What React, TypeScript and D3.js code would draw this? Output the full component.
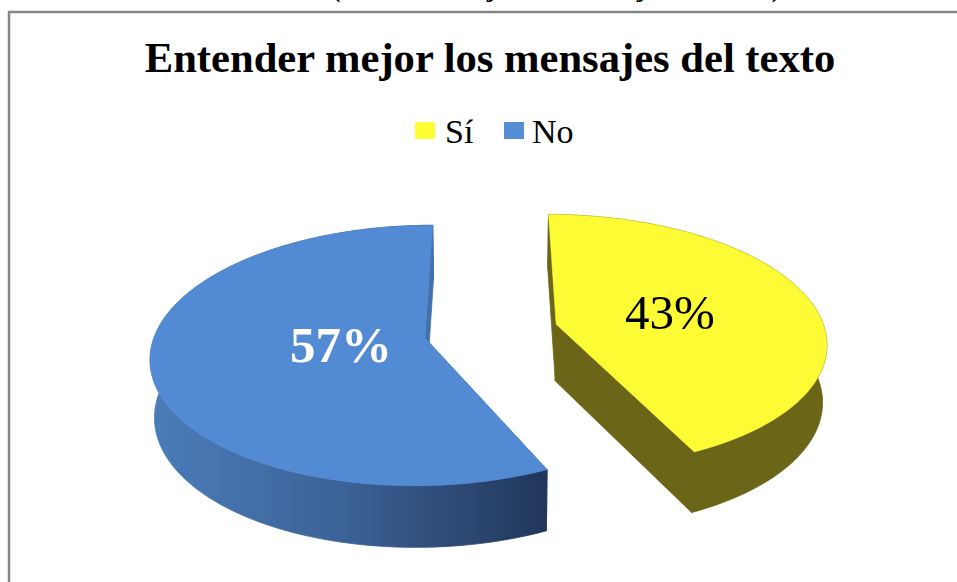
import React from 'react';
import * as d3 from 'd3';

const w = 957;
const h = 582;

const categories = ['Sí', 'No'];
const values = [43, 57];
const labels = ['43%', '57%'];
const topColors = ['#fdfb33', '#538ad4'];
const sideColors = ['#6b6518', 'url(#blueSide)'];
const cutColors = ['#6b6518', '#4272ab'];
const strayGlyphs = ['(', 'j', 'j', ')'];
const strayX = [336, 491, 641, 776];

// rough perspective of the tilted pie
const cx = 491;
const cy = 331;
const rx = 269;
const ry = 126;
const k = 0.134;
const explode = 0.25;

function project(X: number, Y: number, Z: number): [number, number] {
  const s = 1 / (1 - k * Y);
  return [
    cx + X * rx * s * (1 - 0.013 * Z),
    cy + Y * ry * s * (1 + 0.03 * Z) + 57 * Z,
  ];
}

const arcs = d3.pie<number>().sort(null)(values);
const line = d3.line();

function rimPoint(a: number, ox: number, oy: number, Z: number) {
  return project(ox + Math.sin(a), oy - Math.cos(a), Z);
}

function slice(arc: d3.PieArcDatum<number>) {
  const mid = (arc.startAngle + arc.endAngle) / 2;
  const ox = explode * Math.sin(mid);
  const oy = -explode * Math.cos(mid);
  const angles = d3
    .scaleLinear()
    .domain([0, 120])
    .range([arc.startAngle, arc.endAngle]);
  const steps = d3.range(121).map((i) => angles(i));
  const rim = (Z: number) => steps.map((a) => rimPoint(a, ox, oy, Z));
  const wall = (a: number) =>
    line([
      project(ox, oy, 0),
      rimPoint(a, ox, oy, 0),
      rimPoint(a, ox, oy, 1),
      project(ox, oy, 1),
    ]) + 'Z';
  return {
    top: line([project(ox, oy, 0), ...rim(0)]) + 'Z',
    outer: line([...rim(0), ...rim(1).reverse()]) + 'Z',
    startWall: wall(arc.startAngle),
    endWall: wall(arc.endAngle),
  };
}

const slices = arcs.map(slice);

export default function App() {
  return (
    <svg
      width={w}
      height={h}
      style={{ position: 'absolute', left: 0, top: 0, background: '#fff' }}
      fontFamily="'Liberation Serif', serif"
    >
      <defs>
        <linearGradient id="blueSide" gradientUnits="userSpaceOnUse" x1="150" x2="547" y1="0" y2="0">
          <stop offset="0" stopColor="#4b7dba" />
          <stop offset="0.5" stopColor="#3b6195" />
          <stop offset="1" stopColor="#21365a" />
        </linearGradient>
      </defs>

      {strayGlyphs.map((g, i) => (
        <text key={i} x={strayX[i]} y={-3} fontSize={26} fontWeight="bold" textAnchor="middle">
          {g}
        </text>
      ))}

      <path d={`M9,${h}V12H${w}`} fill="none" stroke="#868686" strokeWidth={2.5} />

      <text x={490} y={72} fontSize={42.6} fontWeight="bold" textAnchor="middle">
        Entender mejor los mensajes del texto
      </text>

      <rect x={415} y={122} width={20} height={17} fill="#ffff33" />
      <text x={445} y={143} fontSize={34}>
        {categories[0]}
      </text>
      <rect x={504} y={122} width={20} height={17} fill="#558ed5" />
      <text x={532} y={143} fontSize={34}>
        {categories[1]}
      </text>

      {slices.map((s, i) => (
        <g key={categories[i]}>
          <path d={s.startWall} fill={cutColors[i]} stroke={cutColors[i]} strokeWidth={0.8} />
          <path d={s.outer} fill={sideColors[i]} stroke={sideColors[i]} strokeWidth={0.8} />
          <path d={s.endWall} fill={cutColors[i]} stroke={cutColors[i]} strokeWidth={0.8} />
          <path d={s.top} fill={topColors[i]} stroke={topColors[i]} strokeWidth={0.5} />
        </g>
      ))}

      <text x={670} y={329} fontSize={49} textAnchor="middle" fill="#000">
        {labels[0]}
      </text>
      <text x={341} y={362} fontSize={51} fontWeight="bold" textAnchor="middle" fill="#fff">
        {labels[1]}
      </text>
    </svg>
  );
}
